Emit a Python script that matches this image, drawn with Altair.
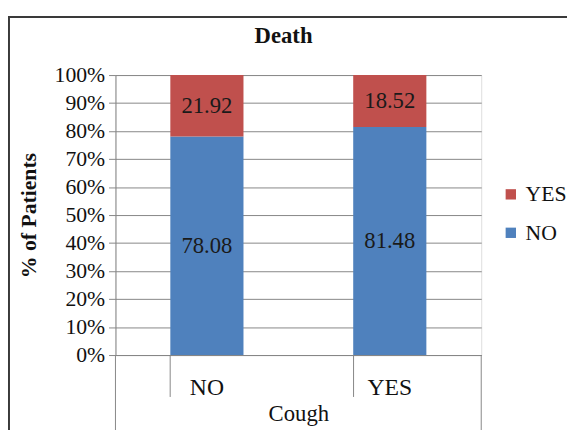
import altair as alt
import pandas as pd

cough = ["NO", "NO", "YES", "YES"]
death = ["NO", "YES", "NO", "YES"]
pct = [78.08, 21.92, 81.48, 18.52]
y_ticks = [0, 10, 20, 30, 40, 50, 60, 70, 80, 90, 100]
legend_order = ["YES", "NO"]
colors = ["#C0504D", "#4F81BD"]

df = pd.DataFrame({"Cough": cough, "Death": death, "pct": pct})

FONT = "'Liberation Serif', 'Times New Roman', serif"
W, H = 371, 284
GRAY = "#868686"

xaxis = alt.Axis(
    title="Cough", labelAngle=0, bandPosition=0, tickSize=42,
    tickColor=GRAY, domainColor=GRAY, labelPadding=-21,
    labelFont=FONT, labelFontSize=24, labelColor="#111",
    titleFont=FONT, titleFontSize=23, titleFontWeight="normal",
    titleColor="#111", titlePadding=3,
)
yaxis = alt.Axis(
    values=y_ticks, tickCount=20, labelExpr="datum.value + '%'",
    labelOverlap=False,
    title="% of Patients", tickSize=7, tickColor=GRAY,
    domainColor=GRAY, gridColor=GRAY, labelPadding=4,
    labelFont=FONT, labelFontSize=22, labelColor="#111",
    titleFont=FONT, titleFontSize=22, titleFontWeight="bold",
    titleColor="#111", titlePadding=14,
)
xscale = alt.Scale(paddingInner=0.6, paddingOuter=0.3)
yscale = alt.Scale(domain=[0, 100], nice=False)

base = alt.Chart(df).transform_calculate(
    ord="datum.Death == 'NO' ? 0 : 1"
)

bars = base.mark_bar().encode(
    x=alt.X("Cough:N", sort=["NO", "YES"], scale=xscale, axis=xaxis),
    y=alt.Y("pct:Q", stack="zero", scale=yscale, axis=yaxis),
    color=alt.Color(
        "Death:N",
        scale=alt.Scale(domain=legend_order, range=colors),
        legend=alt.Legend(
            title=None, orient="none", legendX=390, legendY=110,
            symbolType="square", symbolSize=110, symbolStrokeWidth=0,
            labelFont=FONT, labelFontSize=22, labelColor="#111",
            rowPadding=17, labelOffset=4,
        ),
    ),
    order=alt.Order("ord:Q", sort="ascending"),
)

labels = base.transform_window(
    cum="sum(pct)", groupby=["Cough"], sort=[alt.SortField("ord")]
).transform_calculate(
    mid="datum.cum - datum.pct / 2"
).mark_text(font=FONT, fontSize=23, color="#1a1a1a", baseline="middle").encode(
    x=alt.X("Cough:N", sort=["NO", "YES"], scale=xscale, axis=xaxis),
    y=alt.Y("mid:Q", scale=yscale, axis=yaxis),
    text=alt.Text("pct:Q", format=".2f"),
)

edges = alt.Chart(pd.DataFrame({"e": [0]})).mark_rule(
    color=GRAY, strokeWidth=1, clip=False
).encode(
    x=alt.value(0), y=alt.value(H), y2=alt.value(H + 90)
)
edges_r = alt.Chart(pd.DataFrame({"e": [0]})).mark_rule(
    color=GRAY, strokeWidth=1, clip=False
).encode(
    x=alt.value(W), y=alt.value(H), y2=alt.value(H + 90)
)

border = alt.Chart(pd.DataFrame({"e": [0]})).mark_rect(
    fill=None, stroke="#3a3a3a", strokeWidth=2, clip=False
).encode(
    x=alt.value(-108), x2=alt.value(700), y=alt.value(-59), y2=alt.value(600)
)

chart = alt.layer(border, bars, labels, edges, edges_r).properties(
    width=W, height=H,
    title=alt.TitleParams(
        "Death", font=FONT, fontSize=23, fontWeight="bold", color="#111",
        anchor="middle", dx=-15, offset=-32,
    ),
    autosize=alt.AutoSizeParams(type="none"),
    padding={"left": 109, "top": 65, "right": 87, "bottom": 73},
).configure_view(stroke=None).configure(background="white", font=FONT)

chart.save("out.html", embed_options={"renderer": "svg", "actions": False})
